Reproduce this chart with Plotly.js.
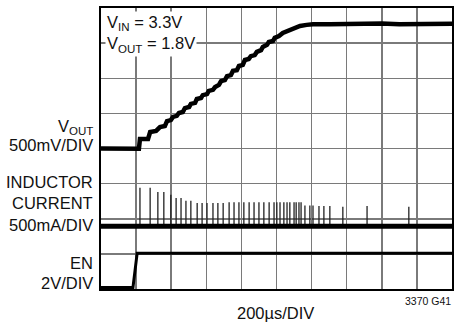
<!DOCTYPE html>
<html>
<head>
<meta charset="utf-8">
<script src="https://cdn.plot.ly/plotly-3.0.1.min.js"></script>
<style>
html,body{margin:0;padding:0;background:#fff;}
#chart{width:454px;height:326px;}
</style>
</head>
<body>
<div id="chart"></div>
<script>
// Time in divisions (200µs/DIV), amplitude in divisions
const voutTime = [0,0.3,0.6,0.9,1.08,1.11,1.34,1.40,1.57,1.68,1.82,1.88,1.99,2.05,2.16,2.22,2.33,2.39,2.51,2.56,2.68,2.73,2.85,2.90,3.02,3.07,3.19,3.25,3.36,3.42,3.53,3.59,3.70,3.76,3.87,3.93,4.04,4.10,4.21,4.27,4.38,4.44,4.56,4.61,4.73,4.78,4.90,4.95,5.07,5.18,5.32,5.49,5.67,5.86,6.04,6.52,7.0,7.5,8.0,8.5,9.0,9.5,10];
const voutValue = [4.0,3.99,4.0,3.99,3.99,4.27,4.27,4.47,4.50,4.61,4.64,4.78,4.81,4.90,4.93,5.01,5.04,5.15,5.18,5.27,5.30,5.41,5.44,5.52,5.55,5.64,5.67,5.75,5.81,5.92,5.95,6.06,6.09,6.21,6.23,6.35,6.38,6.52,6.55,6.63,6.66,6.75,6.80,6.89,6.95,7.03,7.06,7.15,7.20,7.29,7.35,7.43,7.49,7.52,7.54,7.54,7.55,7.54,7.56,7.54,7.55,7.55,7.55];

const inductorBaseTime = [0,10];
const inductorBaseValue = [1.79,1.79];
const spikeTimes = [1.11,1.40,1.62,1.79,1.99,2.14,2.28,2.42,2.56,2.74,2.88,3.02,3.19,3.33,3.48,3.65,3.79,3.93,4.07,4.22,4.36,4.50,4.64,4.79,4.93,5.01,5.10,5.21,5.30,5.38,5.50,5.56,5.64,5.70,5.81,5.95,6.04,6.21,6.35,6.52,6.89,7.58,8.77];
const spikePeaks = [2.88,2.88,2.76,2.76,2.68,2.59,2.59,2.51,2.51,2.45,2.45,2.45,2.45,2.45,2.45,2.47,2.47,2.47,2.47,2.47,2.47,2.47,2.47,2.47,2.47,2.47,2.47,2.47,2.47,2.47,2.47,2.47,2.47,2.47,2.38,2.38,2.38,2.36,2.36,2.36,2.34,2.36,2.34];

const enTime = [0,0.91,1.03,10];
const enValue = [0.04,0.04,1.02,1.02];

const sx = [], sy = [];
for (let i = 0; i < spikeTimes.length; i++) {
  sx.push(spikeTimes[i], spikeTimes[i], null);
  sy.push(inductorBaseValue[0], spikePeaks[i], null);
}

const traces = [
  {x: voutTime, y: voutValue, mode:'lines', line:{color:'#000', width:4.5}, hoverinfo:'skip'},
  {x: sx, y: sy, mode:'lines', line:{color:'#222', width:1.3}, connectgaps:false, hoverinfo:'skip'},
  {x: inductorBaseTime, y: inductorBaseValue, mode:'lines', line:{color:'#000', width:5}, hoverinfo:'skip'},
  {x: enTime, y: enValue, mode:'lines', line:{color:'#000', width:3}, hoverinfo:'skip'}
];

const FONT = '"Liberation Sans", Arial, sans-serif';
const PW = 351, PH = 281, L = 101, T = 8;
function px(x){ return (x - L) / PW; }
function py(y){ return (T + PH - y) / PH; }

const leftLabels = [
  ['V<sub>OUT</sub>', 127],
  ['500mV/DIV', 144.5],
  ['INDUCTOR', 182],
  ['CURRENT', 203],
  ['500mA/DIV', 224.5],
  ['EN', 262.5],
  ['2V/DIV', 283]
];
const annotations = leftLabels.map(l => ({
  text: l[0], xref:'paper', yref:'paper', x: px(95), y: py(l[1]),
  xanchor:'right', yanchor:'middle', showarrow:false,
  font:{family:FONT, size:16.5, color:'#111'}
}));
annotations.push({
  text:'V<sub>IN</sub> = 3.3V<br>V<sub>OUT</sub> = 1.8V', xref:'paper', yref:'paper',
  x: px(105), y: py(11), xanchor:'left', yanchor:'top', align:'left', showarrow:false,
  bgcolor:'#fff', borderpad:1,
  font:{family:FONT, size:16.5, color:'#111'}
});
annotations.push({
  text:'200µs/DIV', xref:'paper', yref:'paper', x: px(275), y: py(313),
  xanchor:'center', yanchor:'middle', showarrow:false,
  font:{family:FONT, size:16.5, color:'#111'}
});
annotations.push({
  text:'3370 G41', xref:'paper', yref:'paper', x: px(453), y: py(301),
  xanchor:'right', yanchor:'middle', showarrow:false,
  font:{family:FONT, size:10.5, color:'#111'}
});

const layout = {
  width:454, height:326,
  margin:{l:101, r:2, t:8, b:37},
  paper_bgcolor:'#fff', plot_bgcolor:'#fff',
  showlegend:false,
  xaxis:{range:[0,10], dtick:1, tick0:0, showticklabels:false, ticks:'', showgrid:true,
    gridcolor:'#7a7a7a', gridwidth:1.5, zeroline:false, showline:true, mirror:true,
    linecolor:'#000', linewidth:2, fixedrange:true},
  yaxis:{range:[0,8], dtick:1, tick0:0, showticklabels:false, ticks:'', showgrid:true,
    gridcolor:'#7a7a7a', gridwidth:1.5, zeroline:false, showline:true, mirror:true,
    linecolor:'#000', linewidth:2, fixedrange:true},
  annotations: annotations
};

Plotly.newPlot('chart', traces, layout, {staticPlot:true, displayModeBar:false});
</script>
</body>
</html>
